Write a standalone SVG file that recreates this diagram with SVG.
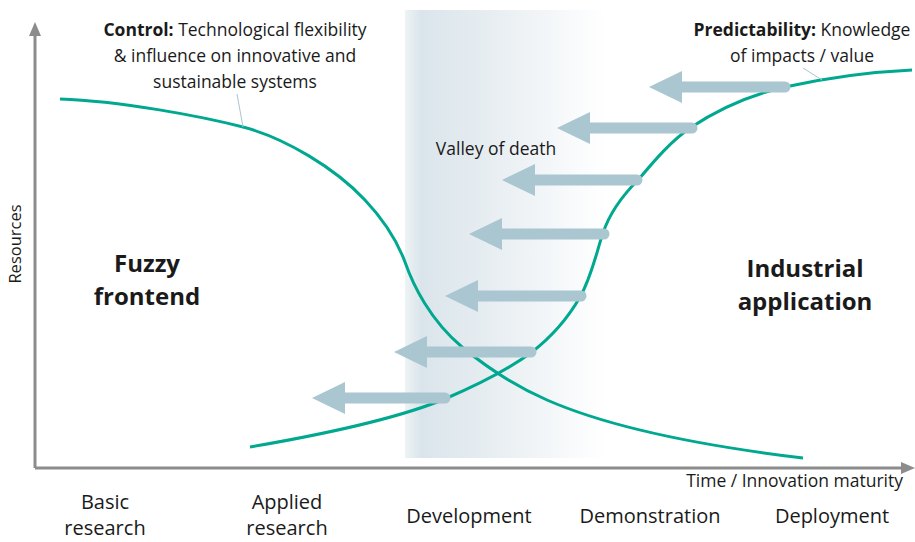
<svg xmlns="http://www.w3.org/2000/svg" width="915" height="542" viewBox="0 0 915 542">
<defs>
<linearGradient id="valley" x1="0" y1="0" x2="1" y2="0">
<stop offset="0" stop-color="#eef3f5"/>
<stop offset="0.08" stop-color="#dae5eb"/>
<stop offset="0.45" stop-color="#e8eef2"/>
<stop offset="1" stop-color="#ffffff"/>
</linearGradient>
<marker id="axisHead" markerUnits="userSpaceOnUse" markerWidth="14" markerHeight="14" viewBox="0 0 14 14" refX="2" refY="7" orient="auto">
<path d="M0,1 L14,7 L0,13 z" fill="#8c8c8c"/>
</marker>
<marker id="bigHead" markerUnits="userSpaceOnUse" markerWidth="34" markerHeight="34" viewBox="0 0 34 34" refX="0" refY="17" orient="auto">
<path d="M0,1 L33,17 L0,33 z" fill="#a9c6d1"/>
</marker>
</defs>
<style>
.axis{stroke:#8c8c8c;stroke-width:3;fill:none}
.curve{stroke:#00a88f;stroke-width:3;fill:none}
.arrow{stroke:#a9c6d1;stroke-width:11;stroke-linecap:round;fill:none;marker-end:url(#bigHead)}
.lead{stroke:#a9c6d1;stroke-width:1;fill:none}
text{font-family:"Open Sans","Noto Sans","DejaVu Sans",sans-serif;fill:#1a1a1a}
.t{font-size:17.5px}
.b{font-weight:bold}
.big{font-size:24px;font-weight:bold;text-anchor:middle}
.lab{font-size:20px;text-anchor:middle}
</style>
<rect id="valley-band" x="405" y="10" width="200" height="448" fill="url(#valley)"/>
<g id="axes">
<line class="axis" x1="35" y1="468" x2="35" y2="34" marker-end="url(#axisHead)"/>
<line class="axis" x1="35" y1="468" x2="903" y2="468" marker-end="url(#axisHead)"/>
</g>
<g id="curves">
<path id="control-curve" class="curve" d="M60,99 C120,101 200,116 243,127 C285,138 335,168 365,200 C380,216 395,235 405,262 C413,285 430,320 462,347 C490,370 515,386 547,400 C620,432 720,448 803,458"/>
<path id="predict-curve" class="curve" d="M250,447 C320,435 400,418 447,398 C475,386 505,372 532,352 C550,338 568,318 580,297 C592,276 597,250 603,233 C610,212 622,196 638,180 C655,160 670,142 690,128 C720,108 750,95 785,87 C830,77 870,72 912,70"/>
<line class="lead" x1="237" y1="94" x2="243" y2="127"/>
<line class="lead" x1="803" y1="68" x2="822" y2="80"/>
</g>
<g id="connectors">
<line class="arrow" x1="785" y1="87" x2="682" y2="87"/>
<line class="arrow" x1="692" y1="128" x2="590" y2="128"/>
<line class="arrow" x1="637" y1="180" x2="535" y2="180"/>
<line class="arrow" x1="604" y1="234" x2="502" y2="234"/>
<line class="arrow" x1="581" y1="296" x2="478" y2="296"/>
<line class="arrow" x1="531" y1="352" x2="427" y2="352"/>
<line class="arrow" x1="445" y1="398" x2="345" y2="398"/>
</g>
<g id="control-label">
<text class="t" x="235" y="36" text-anchor="middle"><tspan class="b">Control:</tspan> Technological flexibility</text>
<text class="t" x="235" y="62" text-anchor="middle">&amp; influence on innovative and</text>
<text class="t" x="235" y="88" text-anchor="middle">sustainable systems</text>
</g>
<g id="predictability-label">
<text class="t" x="802" y="36" text-anchor="middle"><tspan class="b">Predictability:</tspan> Knowledge</text>
<text class="t" x="802" y="62" text-anchor="middle">of impacts / value</text>
</g>
<g id="valley-label"><text class="t" x="496" y="155" text-anchor="middle">Valley of death</text></g>
<g id="resources-label"><text x="21" y="244" text-anchor="middle" transform="rotate(-90 21 244)" style="font-size:16.5px">Resources</text></g>
<g id="fuzzy-frontend">
<text class="big" x="147" y="272">Fuzzy</text>
<text class="big" x="147" y="305">frontend</text>
</g>
<g id="industrial-application">
<text class="big" x="805" y="277">Industrial</text>
<text class="big" x="805" y="310">application</text>
</g>
<g id="time-label"><text class="t" x="903" y="487" text-anchor="end">Time / Innovation maturity</text></g>
<g id="stage-basic"><text class="lab" x="105" y="509">Basic</text><text class="lab" x="105" y="535">research</text></g>
<g id="stage-applied"><text class="lab" x="287" y="509">Applied</text><text class="lab" x="287" y="535">research</text></g>
<g id="stage-development"><text class="lab" x="469" y="523">Development</text></g>
<g id="stage-demonstration"><text class="lab" x="650" y="523">Demonstration</text></g>
<g id="stage-deployment"><text class="lab" x="832" y="523">Deployment</text></g>
</svg>
